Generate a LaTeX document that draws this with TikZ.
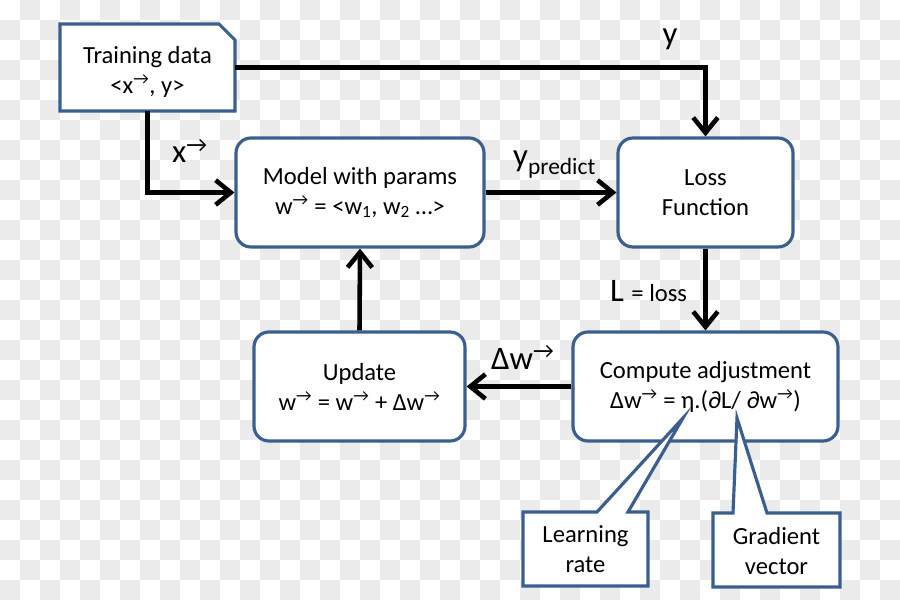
\documentclass[tikz,border=0pt]{standalone}
\usepackage{fontspec}
\setmainfont{Carlito}
\usetikzlibrary{arrows.meta}
\newdimen\pxu \pxu=0.03cm
\definecolor{boxblue}{HTML}{3A5F8F}
\definecolor{checker}{HTML}{EBEBEB}
\tikzset{
 box/.style={draw=boxblue, line width=2.7pt, fill=white, rounded corners=0.45cm, align=center,
   font=\fontsize{21}{25.6}\selectfont, inner sep=0pt},
 plain/.style={align=center, font=\fontsize{21}{25.6}\selectfont, inner sep=0pt},
 arr/.style={draw=black, line width=3.9pt, -{Straight Barb[length=13pt,width=21pt,line width=3.9pt]}},
 lbl/.style={font=\fontsize{28}{30}\selectfont, inner sep=0pt},
 callout/.style={draw=boxblue, line width=2.7pt, fill=white},
}
\newcommand\vsup{\textsuperscript{→}}
\newcommand\smallsub[1]{{\fontsize{20}{22}\selectfont\raisebox{-0.3em}{#1}}}
\begin{document}
\begin{tikzpicture}[x=0.03cm,y=-0.03cm]
\useasboundingbox (0,0) rectangle (900,600);
% checkerboard background
\foreach \j in {0,...,29}{
  \pgfmathtruncatemacro\s{1-mod(\j,2)}
  \pgfmathtruncatemacro\t{\s+2}
  \foreach \i in {\s,\t,...,44}{ \fill[checker] (20*\i,20*\j) rectangle ++(20,20); }
}
% training data (snipped corner)
\filldraw[draw=boxblue, line width=2.7pt, fill=white]
  (60,111) -- (60,24) -- (219,24) -- (235,40) -- (235,111) -- cycle;
\node[plain, minimum width=175\pxu, minimum height=87\pxu] (td) at (147.5,67.5) {};
\node[plain] (tdtext) at (147.5,71.5) {Training data\\<x\vsup, y>};
% boxes
\node[box, minimum width=248\pxu, minimum height=109\pxu] (model) at (360,192.5)
  {Model with params\\ w\vsup{} = <w\textsubscript{1}, w\textsubscript{2} …>};
\node[box, minimum width=175\pxu, minimum height=109\pxu] (loss) at (705.5,192.5)
  {Loss\\Function};
\node[box, minimum width=211\pxu, minimum height=109\pxu] (upd) at (359.5,386.5)
  {Update\\ w\vsup{} = w\vsup{} + Δw\vsup};
\node[box, minimum width=265\pxu, minimum height=109\pxu] (comp) at (705.5,386.5)
  {Compute adjustment\\ Δw\vsup{} = η.(∂L/ ∂w\vsup)};
% callouts
\filldraw[callout] (523,512) -- (597,512) -- (683,418) -- (628,512) -- (648,512)
  -- (648,586) -- (523,586) -- cycle;
\node[plain] (lr) at (585.5,549) {Learning\\rate};
\filldraw[callout] (713,513) -- (733,513) -- (737,418) -- (767,513) -- (840,513)
  -- (840,587) -- (713,587) -- cycle;
\node[plain] (gv) at (776.5,551) {Gradient\\vector};
% connectors
\draw[arr] (td.east) -- (td.east -| loss.north) -- (loss.north);
\draw[arr] (td.south) |- (model.west);
\draw[arr] (model.east) -- (loss.west);
\draw[arr] (loss.south) -- (comp.north);
\draw[arr] (comp.west) -- (upd.east);
\draw[arr] (upd.north) -- (model.south);
% labels
\node[lbl, anchor=base] (ly) at (670,45) {y};
\node[lbl, anchor=base west] (lx) at (172,163) {x\vsup};
\node[lbl, anchor=base west] (lyp) at (513,167) {y\smallsub{predict}};
\node[lbl, anchor=base west] (ll) at (610,302) {L {\fontsize{21}{22}\selectfont = loss}};
\node[lbl, anchor=base west] (ldw) at (491,369) {Δw\vsup};
\end{tikzpicture}
\end{document}
